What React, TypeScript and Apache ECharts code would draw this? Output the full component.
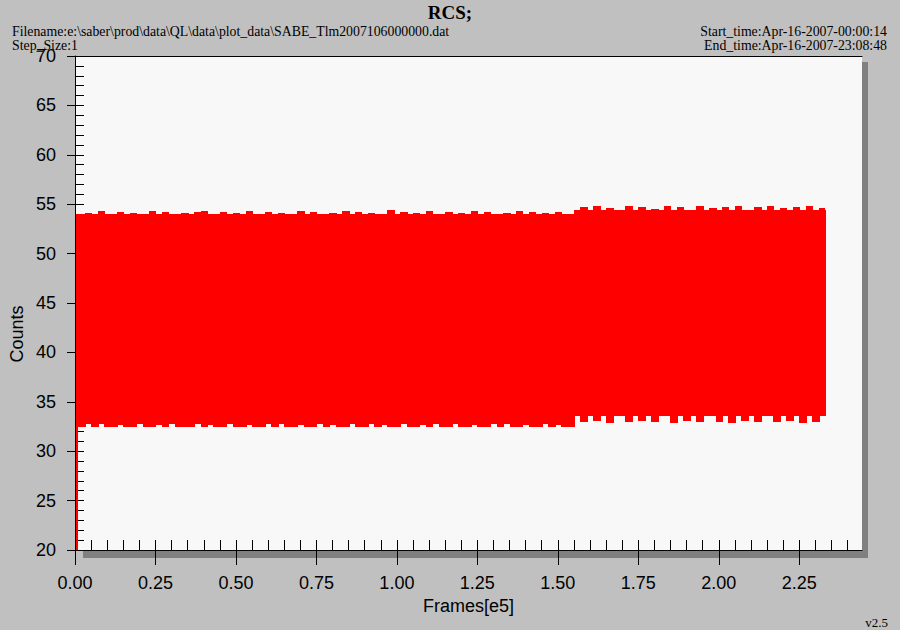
import React, { useEffect, useRef } from 'react';
import * as echarts from 'echarts';

// Frame positions (in units of 1e5 frames) of the sampled envelope of the RCS counts
const frames = [
  0, 0.012,
  0.02, 0.04, 0.06, 0.08, 0.10, 0.12, 0.14, 0.16, 0.18, 0.20,
  0.22, 0.24, 0.26, 0.28, 0.30, 0.32, 0.34, 0.36, 0.38, 0.40,
  0.42, 0.44, 0.46, 0.48, 0.50, 0.52, 0.54, 0.56, 0.58, 0.60,
  0.62, 0.64, 0.66, 0.68, 0.70, 0.72, 0.74, 0.76, 0.78, 0.80,
  0.82, 0.84, 0.86, 0.88, 0.90, 0.92, 0.94, 0.96, 0.98, 1.00,
  1.02, 1.04, 1.06, 1.08, 1.10, 1.12, 1.14, 1.16, 1.18, 1.20,
  1.22, 1.24, 1.26, 1.28, 1.30, 1.32, 1.34, 1.36, 1.38, 1.40,
  1.42, 1.44, 1.46, 1.48, 1.50, 1.52, 1.54,
  1.56, 1.58, 1.60, 1.62, 1.64, 1.66, 1.68, 1.70, 1.72, 1.74,
  1.76, 1.78, 1.80, 1.82, 1.84, 1.86, 1.88, 1.90, 1.92, 1.94,
  1.96, 1.98, 2.00, 2.02, 2.04, 2.06, 2.08, 2.10, 2.12, 2.14,
  2.16, 2.18, 2.20, 2.22, 2.24, 2.26, 2.28, 2.30, 2.32,
  2.331,
];

// Upper envelope (max counts) at each frame position
const upperCounts = [
  54.0, 54.0,
  54.0, 54.1, 54.0, 54.3, 54.0, 54.0, 54.2, 54.0, 54.1, 54.0,
  54.0, 54.3, 54.0, 54.2, 54.0, 54.0, 54.1, 54.0, 54.2, 54.3,
  54.0, 54.0, 54.2, 54.0, 54.1, 54.0, 54.3, 54.0, 54.0, 54.2,
  54.0, 54.1, 54.0, 54.0, 54.3, 54.0, 54.2, 54.0, 54.0, 54.1,
  54.0, 54.3, 54.0, 54.2, 54.0, 54.1, 54.0, 54.0, 54.4, 54.0,
  54.2, 54.0, 54.1, 54.0, 54.3, 54.0, 54.0, 54.2, 54.0, 54.1,
  54.0, 54.3, 54.0, 54.2, 54.0, 54.0, 54.1, 54.0, 54.3, 54.0,
  54.2, 54.0, 54.1, 54.0, 54.2, 54.0, 54.0,
  54.4, 54.7, 54.4, 54.8, 54.4, 54.6, 54.4, 54.4, 54.8, 54.4,
  54.7, 54.4, 54.5, 54.4, 54.8, 54.4, 54.7, 54.4, 54.4, 54.8,
  54.4, 54.6, 54.4, 54.7, 54.4, 54.8, 54.4, 54.4, 54.7, 54.4,
  54.8, 54.4, 54.6, 54.4, 54.7, 54.4, 54.8, 54.4, 54.6,
  54.4,
];

// Lower envelope (min counts) at each frame position; the first frame reads ~20
const lowerCounts = [
  20.0, 32.45,
  32.45, 32.8, 32.45, 32.75, 32.45, 32.45, 32.7, 32.45, 32.45, 32.8,
  32.45, 32.45, 32.7, 32.45, 32.8, 32.45, 32.45, 32.45, 32.75, 32.45,
  32.7, 32.45, 32.45, 32.8, 32.45, 32.45, 32.7, 32.45, 32.45, 32.75,
  32.45, 32.8, 32.45, 32.45, 32.7, 32.45, 32.45, 32.8, 32.45, 32.7,
  32.45, 32.45, 32.75, 32.45, 32.45, 32.8, 32.45, 32.7, 32.45, 32.45,
  32.8, 32.45, 32.45, 32.7, 32.45, 32.75, 32.45, 32.45, 32.8, 32.45,
  32.45, 32.7, 32.45, 32.45, 32.8, 32.45, 32.75, 32.45, 32.45, 32.7,
  32.45, 32.45, 32.8, 32.45, 32.7, 32.45, 32.45,
  33.6, 33.0, 33.6, 33.1, 33.6, 32.9, 33.6, 33.6, 33.0, 33.6,
  33.1, 33.6, 33.0, 33.6, 33.6, 32.9, 33.6, 33.1, 33.6, 33.0,
  33.6, 33.6, 33.0, 33.6, 32.9, 33.6, 33.1, 33.6, 33.0, 33.6,
  33.6, 33.0, 33.6, 33.1, 33.6, 32.9, 33.6, 33.0, 33.6,
  33.6,
];

const xMajorTicks = [0, 0.25, 0.5, 0.75, 1.0, 1.25, 1.5, 1.75, 2.0, 2.25];
const xMinorTicks = [
  0.05, 0.1, 0.15, 0.2, 0.25, 0.3, 0.35, 0.4, 0.45, 0.5,
  0.55, 0.6, 0.65, 0.7, 0.75, 0.8, 0.85, 0.9, 0.95, 1.0,
  1.05, 1.1, 1.15, 1.2, 1.25, 1.3, 1.35, 1.4, 1.45, 1.5,
  1.55, 1.6, 1.65, 1.7, 1.75, 1.8, 1.85, 1.9, 1.95, 2.0,
  2.05, 2.1, 2.15, 2.2, 2.25, 2.3, 2.35, 2.4,
];
const xMin = 0;
const xMax = 2.445;
const yMin = 20;
const yMax = 70;
const yMajorStep = 5;
const yMinorStep = 1;

const titleText = 'RCS;';
const fileText = 'Filename:e:\\saber\\prod\\data\\QL\\data\\plot_data\\SABE_Tlm2007106000000.dat';
const stepText = 'Step_Size:1';
const startText = 'Start_time:Apr-16-2007-00:00:14';
const endText = 'End_time:Apr-16-2007-23:08:48';
const versionText = 'v2.5';
const xTitle = 'Frames[e5]';
const yTitle = 'Counts';

export default function App() {
  const ref = useRef<HTMLDivElement>(null);

  useEffect(() => {
    if (!ref.current) return;
    const chart = echarts.init(ref.current, null, { renderer: 'svg' });
    const serif = '"Liberation Serif", "Times New Roman", serif';
    const sans = '"Liberation Sans", Arial, sans-serif';
    const red = '#ff0000';

    const last = frames.length - 1;
    // each envelope sample covers the span halfway to its neighbours
    const bandData = frames.map((f, i) => [
      i === 0 ? f : (frames[i - 1] + f) / 2,
      i === last ? f : (f + frames[i + 1]) / 2,
      lowerCounts[i],
      upperCounts[i],
    ]);

    const xCommon = { type: 'value', min: xMin, max: xMax, splitLine: { show: false } };
    const yCommon = { type: 'value', min: yMin, max: yMax, splitLine: { show: false } };

    chart.setOption({
      animation: false,
      backgroundColor: '#c0c0c0',
      grid: { left: 75, top: 56, right: 38, bottom: 80, containLabel: false, outerBoundsMode: 'none' },
      xAxis: [
        {
          ...xCommon,
          position: 'bottom',
          z: 3,
          axisLine: { show: true, onZero: false, lineStyle: { color: '#000', width: 1 } },
          axisTick: { show: true, inside: false, length: 15, customValues: xMajorTicks, lineStyle: { color: '#000', width: 1 } },
          axisLabel: {
            show: true,
            customValues: xMajorTicks,
            formatter: (v: number) => v.toFixed(2),
            color: '#000',
            fontFamily: sans,
            fontSize: 18,
            margin: 24,
          },
          name: xTitle,
          nameLocation: 'middle',
          nameGap: 46,
          nameTextStyle: { color: '#000', fontFamily: sans, fontSize: 18 },
        },
        {
          ...xCommon,
          position: 'bottom',
          axisLine: { show: false, onZero: false },
          axisTick: { show: true, inside: true, length: 10, customValues: xMinorTicks, lineStyle: { color: '#000', width: 1 } },
          axisLabel: { show: false },
        },
        {
          ...xCommon,
          position: 'top',
          axisLine: { show: true, onZero: false, lineStyle: { color: '#000', width: 1 } },
          axisTick: { show: false },
          axisLabel: { show: false },
        },
      ],
      yAxis: [
        {
          ...yCommon,
          interval: yMajorStep,
          position: 'left',
          z: 3,
          axisLine: { show: true, onZero: false, lineStyle: { color: '#000', width: 1 } },
          axisTick: { show: true, inside: false, length: 8, lineStyle: { color: '#000', width: 1 } },
          axisLabel: { color: '#000', fontFamily: sans, fontSize: 18, margin: 19 },
        },
        {
          ...yCommon,
          interval: yMinorStep,
          position: 'left',
          axisLine: { show: false, onZero: false },
          axisTick: { show: true, inside: true, length: 9, lineStyle: { color: '#000', width: 1 } },
          axisLabel: { show: false },
        },
      ],
      series: [
        {
          name: 'RCS',
          type: 'custom',
          xAxisIndex: 0,
          yAxisIndex: 0,
          clip: true,
          z: 2,
          data: bandData,
          encode: { x: [0, 1], y: [2, 3] },
          renderItem: (params: any, api: any) => {
            const p0 = api.coord([api.value(0), api.value(3)]);
            const p1 = api.coord([api.value(1), api.value(2)]);
            const left = Math.round(p0[0]);
            const right = Math.max(Math.round(p1[0]) + 1, left + 2);
            const top = Math.round(p0[1]);
            const bottom = Math.round(p1[1]);
            return {
              type: 'rect',
              shape: { x: left, y: top, width: right - left, height: bottom - top },
              style: { fill: red, stroke: null },
            };
          },
        },
      ],
      graphic: {
        elements: [
          { type: 'rect', z: -2, silent: true, shape: { x: 83, y: 62, width: 785, height: 496 }, style: { fill: '#808080' } },
          { type: 'rect', z: -1, silent: true, shape: { x: 75, y: 56, width: 787, height: 494 }, style: { fill: '#f8f8f8' } },
          { type: 'text', z: 5, x: 450, y: 12, style: { text: titleText, font: `bold 19px ${serif}`, fill: '#000', align: 'center', verticalAlign: 'middle' } },
          { type: 'text', z: 5, x: 12, y: 31, style: { text: fileText, font: `13.8px ${serif}`, fill: '#000', align: 'left', verticalAlign: 'middle' } },
          { type: 'text', z: 5, x: 12, y: 45, style: { text: stepText, font: `13.8px ${serif}`, fill: '#000', align: 'left', verticalAlign: 'middle' } },
          { type: 'text', z: 5, x: 887, y: 31, style: { text: startText, font: `13.8px ${serif}`, fill: '#000', align: 'right', verticalAlign: 'middle' } },
          { type: 'text', z: 5, x: 887, y: 45, style: { text: endText, font: `13.8px ${serif}`, fill: '#000', align: 'right', verticalAlign: 'middle' } },
          { type: 'text', z: 5, x: 888, y: 622, style: { text: versionText, font: `13px ${serif}`, fill: '#000', align: 'right', verticalAlign: 'middle' } },
          { type: 'text', z: 5, x: 17, y: 334, rotation: Math.PI / 2, style: { text: yTitle, font: `18px ${sans}`, fill: '#000', align: 'center', verticalAlign: 'middle' } },
        ],
      },
    });

    return () => {
      chart.dispose();
    };
  }, []);

  return <div ref={ref} style={{ position: 'fixed', left: 0, top: 0, width: 900, height: 630 }} />;
}
